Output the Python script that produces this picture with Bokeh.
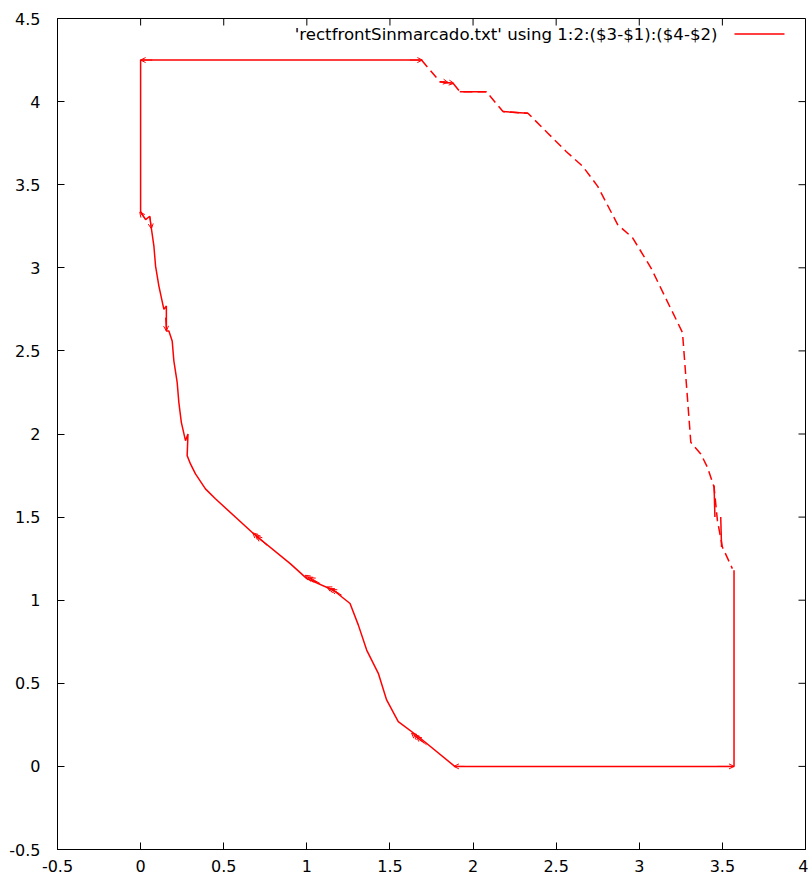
from bokeh.plotting import figure
from bokeh.models import (Range1d, FixedTicker, LinearAxis, CustomJSTickFormatter,
                          Arrow, OpenHead, ColumnDataSource, Label)
from bokeh.embed import file_html
from bokeh.resources import INLINE

# ---------------- data ----------------
x_ticks = [-0.5, 0, 0.5, 1, 1.5, 2, 2.5, 3, 3.5, 4]
x_tick_labels = ["-0.5", "0", "0.5", "1", "1.5", "2", "2.5", "3", "3.5", "4"]
y_ticks = [-0.5, 0, 0.5, 1, 1.5, 2, 2.5, 3, 3.5, 4, 4.5]
y_tick_labels = ["-0.5", "0", "0.5", "1", "1.5", "2", "2.5", "3", "3.5", "4", "4.5"]

# solid part of the front (top edge, left/lower curve, bottom edge, right edge)
solid_x = [1.69, 0.0, 0.0, 0.03, 0.055, 0.065, 0.08, 0.09, 0.11, 0.14, 0.155, 0.155,
           0.17, 0.19, 0.20, 0.22, 0.23, 0.245, 0.27, 0.285, 0.28, 0.30, 0.33, 0.39,
           0.45, 0.68, 0.90, 1.00, 1.16, 1.26, 1.31, 1.36, 1.43, 1.48, 1.55, 1.67,
           1.89, 3.57, 3.57]
solid_y = [4.25, 4.25, 3.34, 3.29, 3.31, 3.235, 3.13, 3.01, 2.89, 2.75, 2.77, 2.62,
           2.62, 2.56, 2.44, 2.31, 2.19, 2.07, 1.96, 2.00, 1.87, 1.82, 1.76, 1.67,
           1.61, 1.40, 1.22, 1.13, 1.06, 0.98, 0.85, 0.70, 0.56, 0.40, 0.27, 0.18,
           0.0, 0.0, 1.18]

# upper-right part of the front (sparse vectors -> dashed look)
upper_x = [1.69, 1.80, 1.88, 1.92, 2.08, 2.18, 2.33, 2.45, 2.56, 2.66, 2.75, 2.87,
           2.96, 3.07, 3.26, 3.31, 3.37, 3.41, 3.45, 3.47, 3.50, 3.56]
upper_y = [4.25, 4.12, 4.11, 4.06, 4.06, 3.94, 3.93, 3.81, 3.70, 3.61, 3.49, 3.26,
           3.18, 3.00, 2.61, 1.95, 1.88, 1.80, 1.68, 1.48, 1.32, 1.19]

# dense (solid-looking) stretches inside the upper-right part
dense_x0 = [1.80, 1.92, 2.18, 3.45, 3.49]
dense_y0 = [4.12, 4.06, 3.94, 1.69, 1.50]
dense_x1 = [1.88, 2.08, 2.33, 3.455, 3.495]
dense_y1 = [4.11, 4.06, 3.93, 1.50, 1.32]

# short vectors whose arrow heads are visible
vec_x0 = [0.76, 0.745, 0.73, 1.08, 1.065, 1.05, 1.21, 1.195, 1.18, 1.72, 1.705, 1.69,
          1.95, 3.47, 1.62, 0.07, 0.03, 0.055, 1.82, 1.85, 0.15]
vec_y0 = [1.33, 1.345, 1.355, 1.10, 1.105, 1.11, 1.03, 1.04, 1.05, 0.13, 0.14, 0.15,
          0.0, 0.0, 4.25, 4.25, 3.29, 3.31, 4.12, 4.115, 2.70]
vec_x1 = [0.70, 0.69, 0.675, 1.02, 1.005, 0.99, 1.15, 1.135, 1.12, 1.66, 1.645, 1.63,
          1.885, 3.57, 1.695, 0.0, -0.005, 0.065, 1.85, 1.885, 0.155]
vec_y1 = [1.385, 1.395, 1.405, 1.135, 1.14, 1.15, 1.065, 1.07, 1.08, 0.18, 0.19, 0.20,
          0.0, 0.0, 4.25, 4.25, 3.335, 3.235, 4.115, 4.11, 2.62]

legend_text = "'rectfrontSinmarcado.txt' using 1:2:($3-$1):($4-$2)"

X_MIN, X_MAX = -0.5, 4.0
Y_MIN, Y_MAX = -0.5, 4.5

# ---------------- figure ----------------
FONT = "DejaVu Sans"
FRAME_W, FRAME_H = 748, 831
TICK = 7

p = figure(width=808, height=875,
           x_range=Range1d(X_MIN, X_MAX), y_range=Range1d(Y_MIN, Y_MAX),
           output_backend="svg", toolbar_location=None,
           min_border_left=57, min_border_right=3, min_border_top=18, min_border_bottom=26,
           x_axis_type=None, y_axis_type=None)
p.grid.visible = False
p.outline_line_color = "black"
p.outline_line_width = 1
p.background_fill_color = "white"
p.border_fill_color = "white"

fmt_x = CustomJSTickFormatter(args=dict(t=x_ticks, l=x_tick_labels),
                              code="const i = t.indexOf(tick); return i >= 0 ? l[i] : '';")
fmt_y = CustomJSTickFormatter(args=dict(t=y_ticks, l=y_tick_labels),
                              code="const i = t.indexOf(tick); return i >= 0 ? l[i] : '';")


def style_axis(ax, standoff):
    ax.major_tick_in = TICK
    ax.major_tick_out = 0
    ax.minor_tick_in = 0
    ax.minor_tick_out = 0
    ax.axis_line_color = "black"
    ax.major_tick_line_color = "black"
    ax.major_label_text_font = FONT
    ax.major_label_text_color = "black"
    ax.major_label_standoff = standoff
    ax.major_label_text_font_size = "16px"
    ax.major_label_text_line_height = 1.0


xb = LinearAxis(ticker=FixedTicker(ticks=x_ticks), formatter=fmt_x)
style_axis(xb, 10)
p.add_layout(xb, "below")
yl = LinearAxis(ticker=FixedTicker(ticks=y_ticks), formatter=fmt_y)
style_axis(yl, 17)
p.add_layout(yl, "left")


def px2x(px):
    return X_MIN + px * (X_MAX - X_MIN) / FRAME_W


def py2y(py):
    return Y_MAX - py * (Y_MAX - Y_MIN) / FRAME_H


# mirrored ticks on top and right borders (gnuplot style)
tick_dx = px2x(TICK) - X_MIN
tick_dy = Y_MAX - py2y(TICK)
p.segment(x0=x_ticks, y0=[Y_MAX] * len(x_ticks), x1=x_ticks, y1=[Y_MAX - tick_dy] * len(x_ticks),
          line_color="black", line_width=1)
p.segment(x0=[X_MAX] * len(y_ticks), y0=y_ticks, x1=[X_MAX - tick_dx] * len(y_ticks), y1=y_ticks,
          line_color="black", line_width=1)

RED = "#ff0000"
LW = 1.5

p.line(solid_x, solid_y, line_color=RED, line_width=LW)
p.line(upper_x, upper_y, line_color=RED, line_width=LW, line_dash="9 5")
p.segment(x0=dense_x0, y0=dense_y0, x1=dense_x1, y1=dense_y1, line_color=RED, line_width=LW)

vsrc = ColumnDataSource(dict(x0=vec_x0, y0=vec_y0, x1=vec_x1, y1=vec_y1))
p.add_layout(Arrow(end=OpenHead(size=5, line_color=RED, line_width=1),
                   source=vsrc, x_start="x0", y_start="y0", x_end="x1", y_end="y1",
                   line_color=RED, line_width=1))

# ---------------- key (gnuplot style: text then sample line) ----------------
p.add_layout(Label(x=px2x(660), y=py2y(15.5), text=legend_text,
                   text_align="right", text_baseline="middle",
                   text_font=FONT, text_font_size="16.6px", text_color="black"))
p.segment(x0=[px2x(677)], y0=[py2y(15.5)], x1=[px2x(727)], y1=[py2y(15.5)],
          line_color=RED, line_width=LW)

open("out.html", "w").write(file_html(p, INLINE))
